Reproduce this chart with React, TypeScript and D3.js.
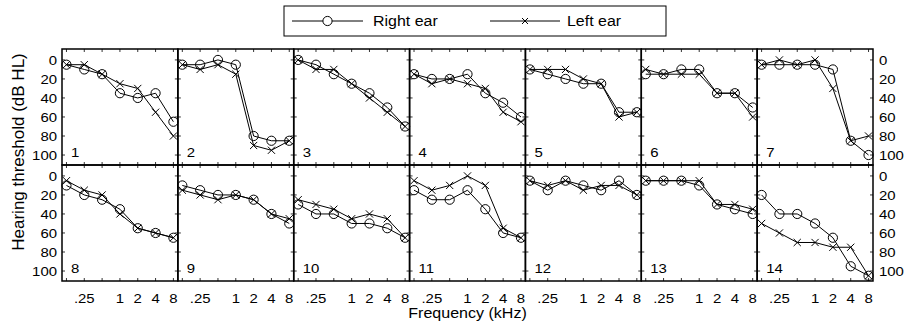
import React from "react";
import * as d3 from "d3";

const frequencies = [125, 250, 500, 1000, 2000, 4000, 8000];
const freqTickValues = [250, 1000, 2000, 4000, 8000];
const freqTickLabels = [".25", "1", "2", "4", "8"];
const dbTicks = [0, 20, 40, 60, 80, 100];
const panelIds = ["1", "2", "3", "4", "5", "6", "7", "8", "9", "10", "11", "12", "13", "14"];

const rightEar = [
  [5, 10, 15, 35, 40, 35, 65],
  [5, 5, 0, 5, 80, 85, 85],
  [0, 5, 15, 25, 35, 50, 70],
  [15, 20, 20, 15, 35, 45, 60],
  [10, 15, 20, 25, 25, 55, 55],
  [15, 15, 10, 10, 35, 35, 50],
  [5, 5, 5, 5, 10, 85, 100],
  [10, 20, 25, 35, 55, 60, 65],
  [10, 15, 20, 20, 25, 40, 50],
  [30, 40, 40, 50, 50, 55, 65],
  [15, 25, 25, 15, 35, 60, 65],
  [5, 15, 5, 10, 15, 5, 20],
  [5, 5, 5, 10, 30, 35, 40],
  [20, 40, 40, 50, 65, 95, 105],
];

const leftEar = [
  [5, 5, 15, 25, 30, 55, 80],
  [5, 10, 5, 15, 90, 95, 85],
  [0, 10, 10, 25, 40, 55, 70],
  [15, 25, 20, 25, 30, 55, 65],
  [10, 10, 10, 20, 25, 60, 55],
  [10, 15, 15, 15, 35, 35, 60],
  [5, 0, 5, 0, 30, 85, 80],
  [5, 15, 20, 40, 55, 60, 65],
  [15, 20, 25, 20, 25, 40, 45],
  [25, 30, 35, 45, 40, 45, 65],
  [5, 15, 10, 0, 10, 55, 65],
  [5, 10, 5, 15, 10, 10, 20],
  [5, 5, 5, 5, 30, 30, 35],
  [50, 60, 70, 70, 75, 75, 105],
];

const seriesNames = ["Right ear", "Left ear"];

const W = 906;
const H = 322;
const gridLeft = 62;
const gridRight = 873;
const gridTop = 49;
const panelH = 116;
const cols = 7;
const panelW = (gridRight - gridLeft) / cols;
const FONT = "'Liberation Sans', Arial, Helvetica, sans-serif";
const TICK_SIZE = 13;
const TICK_SX = 1.15;

function SText({ x, y, size, anchor = "start", sx = TICK_SX, children }: any) {
  return (
    <text
      transform={`translate(${x},${y}) scale(${sx},1)`}
      fontSize={size}
      textAnchor={anchor}
      fontFamily={FONT}
      fill="#000"
    >
      {children}
    </text>
  );
}

function Cross({ x, y, s = 3.6 }: any) {
  return (
    <path
      d={`M${x - s},${y - s}L${x + s},${y + s}M${x - s},${y + s}L${x + s},${y - s}`}
      stroke="#000"
      strokeWidth={1}
      fill="none"
    />
  );
}

function Panel({ idx }: { idx: number }) {
  const col = idx % cols;
  const row = Math.floor(idx / cols);
  const x0 = gridLeft + col * panelW;
  const y0 = gridTop + row * panelH;
  const x = d3
    .scaleLinear()
    .domain([Math.log2(125) - 0.25, Math.log2(8000) + 0.25])
    .range([x0, x0 + panelW]);
  const fx = (f: number) => x(Math.log2(f));
  const y = d3.scaleLinear().domain([-11.5, 110.5]).range([y0, y0 + panelH]);
  const line = d3
    .line<number>()
    .x((_, i) => fx(frequencies[i]))
    .y((d) => y(d));
  const r = rightEar[idx];
  const l = leftEar[idx];
  const tl = 3;
  return (
    <g>
      {frequencies.map((f) => (
        <g key={"xt" + f}>
          <line x1={fx(f)} x2={fx(f)} y1={y0} y2={y0 + tl} stroke="#000" strokeWidth={0.8} />
          <line x1={fx(f)} x2={fx(f)} y1={y0 + panelH} y2={y0 + panelH - tl} stroke="#000" strokeWidth={0.8} />
        </g>
      ))}
      {dbTicks.map((t) => (
        <g key={"yt" + t}>
          <line x1={x0} x2={x0 + tl} y1={y(t)} y2={y(t)} stroke="#000" strokeWidth={0.8} />
          <line x1={x0 + panelW} x2={x0 + panelW - tl} y1={y(t)} y2={y(t)} stroke="#000" strokeWidth={0.8} />
        </g>
      ))}
      <path d={line(l) || ""} fill="none" stroke="#000" strokeWidth={1} />
      <path d={line(r) || ""} fill="none" stroke="#000" strokeWidth={1} />
      {l.map((v, i) => (
        <Cross key={"l" + i} x={fx(frequencies[i])} y={y(v)} />
      ))}
      {r.map((v, i) => (
        <circle key={"r" + i} cx={fx(frequencies[i])} cy={y(v)} r={4.6} fill="none" stroke="#000" strokeWidth={1} />
      ))}
      <rect x={x0} y={y0} width={panelW} height={panelH} fill="none" stroke="#000" strokeWidth={1.5} />
      <SText x={x0 + 9} y={y0 + panelH - 8} size={TICK_SIZE}>
        {panelIds[idx]}
      </SText>
      {col === 0 &&
        dbTicks.map((t) => (
          <SText key={"yl" + t} x={x0 - 5} y={y(t) + 4.6} size={TICK_SIZE} anchor="end">
            {t}
          </SText>
        ))}
      {col === cols - 1 &&
        dbTicks.map((t) => (
          <SText key={"yr" + t} x={x0 + panelW + 6} y={y(t) + 4.6} size={TICK_SIZE}>
            {t}
          </SText>
        ))}
      {row === 1 &&
        freqTickValues.map((f, i) => (
          <SText key={"xl" + f} x={fx(f)} y={y0 + panelH + 21.5} size={TICK_SIZE} anchor="middle">
            {freqTickLabels[i]}
          </SText>
        ))}
    </g>
  );
}

export default function App() {
  const lgX = 284;
  const lgY = 6;
  const lgW = 382;
  const lgH = 30;
  const cy = lgY + lgH / 2;
  return (
    <svg width={W} height={H} style={{ position: "absolute", left: 0, top: 0, background: "#fff" }}>
      <rect x={0} y={0} width={W} height={H} fill="#fff" />
      <rect x={lgX} y={lgY} width={lgW} height={lgH} fill="#fff" stroke="#000" strokeWidth={1} />
      <line x1={292} x2={363} y1={cy} y2={cy} stroke="#000" strokeWidth={1} />
      <circle cx={327.5} cy={cy} r={4.6} fill="#fff" stroke="#000" strokeWidth={1} />
      <SText x={373} y={cy + 5.2} size={14.5} sx={1.1}>
        {seriesNames[0]}
      </SText>
      <line x1={490} x2={560} y1={cy} y2={cy} stroke="#000" strokeWidth={1} />
      <Cross x={525} y={cy} s={3} />
      <SText x={567} y={cy + 5.2} size={14.5} sx={1.1}>
        {seriesNames[1]}
      </SText>
      {panelIds.map((_, i) => (
        <Panel key={i} idx={i} />
      ))}
      <text
        transform={`translate(24,152) rotate(-90)`}
        fontSize={17}
        textAnchor="middle"
        fontFamily={FONT}
        fill="#000"
      >
        Hearing threshold (dB HL)
      </text>
      <SText x={(gridLeft + gridRight) / 2} y={318} size={15} sx={1.07} anchor="middle">
        Frequency (kHz)
      </SText>
    </svg>
  );
}
